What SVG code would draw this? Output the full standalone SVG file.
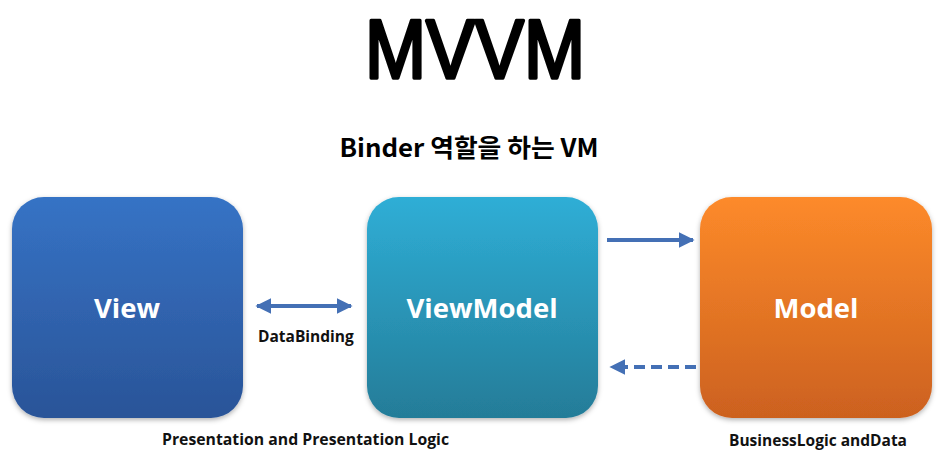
<svg xmlns="http://www.w3.org/2000/svg" width="950" height="460" viewBox="0 0 950 460">
<defs>
<linearGradient id="gView" x1="0" y1="0" x2="0" y2="1"><stop offset="0" stop-color="#3673c5"/><stop offset="1" stop-color="#2a5498"/></linearGradient>
<linearGradient id="gVM" x1="0" y1="0" x2="0" y2="1"><stop offset="0" stop-color="#2faed6"/><stop offset="1" stop-color="#247c98"/></linearGradient>
<linearGradient id="gModel" x1="0" y1="0" x2="0" y2="1"><stop offset="0" stop-color="#fd8a2a"/><stop offset="1" stop-color="#cc611f"/></linearGradient>
<filter id="sh" x="-10%" y="-10%" width="120%" height="125%"><feDropShadow dx="0" dy="2" stdDeviation="2.5" flood-color="#000" flood-opacity="0.3"/></filter>
<marker id="ah" viewBox="0 0 10 10" refX="9" refY="5" markerWidth="4" markerHeight="4" orient="auto-start-reverse" markerUnits="strokeWidth"><path d="M0,0 L10,5 L0,10 z" fill="#4470b5"/></marker>
</defs>
<style>
.box{filter:url(#sh)}
.lbl{font-family:"Open Sans","Liberation Sans",sans-serif;font-weight:bold;fill:#fff;font-size:27.5px;text-anchor:middle}
.cap{font-family:"Open Sans","Liberation Sans",sans-serif;font-weight:bold;fill:#111;font-size:15.5px}
.con{stroke:#4470b5;stroke-width:4;fill:none}
</style>
<text x="475" y="78" font-family="Liberation Sans, sans-serif" font-size="84" text-anchor="middle" textLength="220" lengthAdjust="spacingAndGlyphs" fill="#000" stroke="#000" stroke-width="3.5" stroke-linejoin="round">MVVM</text>
<text x="469" y="157" font-family="Noto Sans CJK KR, sans-serif" font-weight="bold" font-size="25" text-anchor="middle" textLength="259" lengthAdjust="spacingAndGlyphs" fill="#000">Binder 역할을 하는 VM</text>
<g id="view">
<rect class="box" x="12" y="197" width="231" height="221" rx="32" fill="url(#gView)"/>
<text class="lbl" x="127" y="318">View</text>
</g>
<g id="viewmodel">
<rect class="box" x="367" y="197" width="231" height="221" rx="32" fill="url(#gVM)"/>
<text class="lbl" x="482" y="318">ViewModel</text>
</g>
<g id="model">
<rect class="box" x="700" y="197" width="232" height="221" rx="32" fill="url(#gModel)"/>
<text class="lbl" x="816" y="318">Model</text>
</g>
<g id="connectors">
<line class="con" x1="257" y1="306" x2="351" y2="306" marker-start="url(#ah)" marker-end="url(#ah)"/>
<line class="con" x1="607" y1="240" x2="693" y2="240" marker-end="url(#ah)"/>
<line class="con" x1="696" y1="367" x2="611" y2="367" stroke-dasharray="11,6" marker-end="url(#ah)"/>
</g>
<text class="cap" x="258" y="342">DataBinding</text>
<text class="cap" x="162" y="445" textLength="287" lengthAdjust="spacingAndGlyphs">Presentation and Presentation Logic</text>
<text class="cap" x="729" y="446" textLength="178" lengthAdjust="spacingAndGlyphs">BusinessLogic andData</text>
</svg>
